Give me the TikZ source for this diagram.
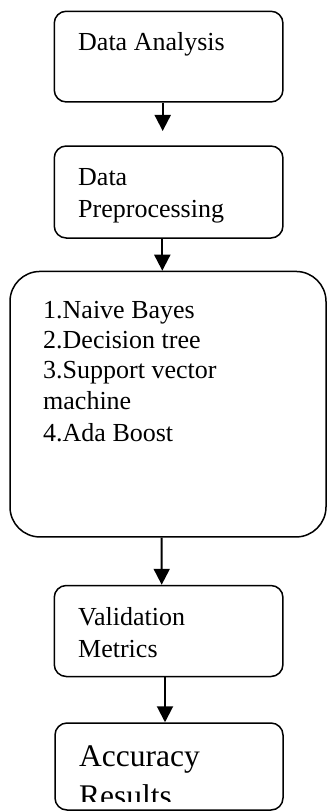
\documentclass[tikz,border=0pt]{standalone}
\usepackage{fontspec}
\setmainfont{Liberation Serif}
\usetikzlibrary{arrows.meta}
\begin{document}
\begin{tikzpicture}[x=1pt,y=-1pt,
  box/.style={draw, line width=1.5pt, inner sep=0pt},
  small/.style={rounded corners=12pt},
  txt/.style={anchor=base west, inner sep=0pt, font=\fontsize{26}{30}\selectfont},
  bigtxt/.style={anchor=base west, inner sep=0pt, font=\fontsize{31.5}{36}\selectfont},
  arr/.style={line width=2pt, -{Triangle[width=16pt,length=16pt]}}]
\useasboundingbox (0,0) rectangle (327,812);
% boxes
\node[box, small, minimum width=228.7pt, minimum height=90.7pt] (b1) at (168.6,56.6) {};
\node[box, small, minimum width=228.7pt, minimum height=92pt] (b2) at (168.6,192) {};
\node[box, rounded corners=30pt, minimum width=316pt, minimum height=265.5pt] (b3) at (168,404.2) {};
\node[box, small, minimum width=228.7pt, minimum height=91pt] (b4) at (168.6,631) {};
\node[box, small, minimum width=228pt, minimum height=87pt] (b5) at (169,766.5) {};
% texts
\node[txt] (t1) at (78,50) {Data Analysis};
\node[txt] (t2a) at (78,185) {Data};
\node[txt] (t2b) at (78,217) {Preprocessing};
\node[txt] (t3a) at (43,318.3) {1.Naive Bayes};
\node[txt] (t3b) at (43,348.5) {2.Decision tree};
\node[txt] (t3c) at (43,378.7) {3.Support vector};
\node[txt] (t3d) at (43,409) {machine};
\node[txt] (t3e) at (43,441) {4.Ada Boost};
\node[txt] (t4a) at (78,625) {Validation};
\node[txt] (t4b) at (78,657) {Metrics};
\node[bigtxt] (t5a) at (79,766.7) {Accuracy};
\begin{scope}
\clip (0,0) rectangle (327,801.5);
\node[bigtxt] (t5b) at (79,806) {Results};
\end{scope}
% arrows
\draw[arr, shorten >=14.3pt] ([xshift=-5.9pt]b1.south) -- ([xshift=-5.9pt]b2.north);
\draw[arr] ([xshift=-6.3pt]b2.south) -- ([xshift=-5.7pt]b3.north);
\draw[arr] ([xshift=-6.3pt]b3.south) -- ([xshift=-6.9pt]b4.north);
\draw[arr] ([xshift=-3.6pt]b4.south) -- ([xshift=-4pt]b5.north);
\end{tikzpicture}
\end{document}
